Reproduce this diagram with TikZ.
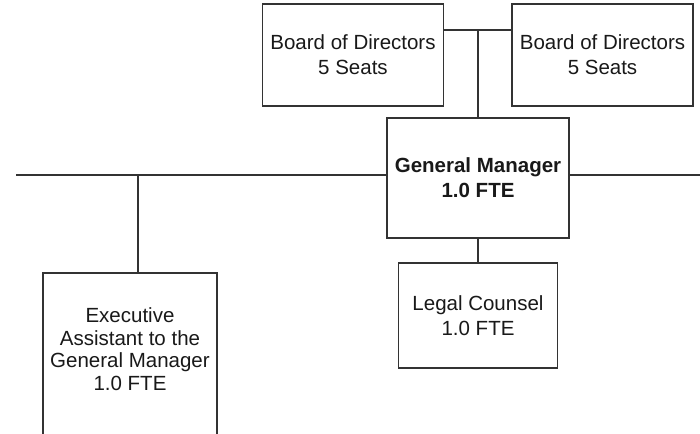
\documentclass[tikz,border=0pt]{standalone}
\usepackage{fontspec}
\setmainfont{Liberation Sans}
\begin{document}
\begin{tikzpicture}[x=1pt, y=-1pt,
    box/.style={draw=black!80, line width=1.9pt, fill=white, inner sep=0pt, align=center,
        text=black!90, font=\fontsize{20.5}{25}\selectfont},
    link/.style={draw=black!80, line width=1.4pt}]
    \useasboundingbox (0,0) rectangle (700,433);

    % Board and management
    \node[box, minimum width=181pt, minimum height=102pt] (bodl) at (353,55) {Board of Directors\\5 Seats};
    \node[box, minimum width=181pt, minimum height=102pt] (bodr) at (602.5,55) {Board of Directors\\5 Seats};
    \node[box, minimum width=182pt, minimum height=120pt, font=\fontsize{20.5}{25}\selectfont\bfseries] (gm) at (478,178) {General Manager\\1.0 FTE};
    \node[box, minimum width=159pt, minimum height=105pt] (legal) at (478,315.5) {Legal Counsel\\1.0 FTE};

    % Executive assistant box runs off the page
    \begin{scope}
        \clip (0,0) rectangle (700,433);
        \node[box, minimum width=174pt, minimum height=200pt, anchor=north] (exec) at (130,272) {};
    \end{scope}
    \node[align=center, inner sep=0pt, text=black!90, font=\fontsize{20.5}{22.5}\selectfont] (exectext) at (130,349)
        {Executive\\Assistant to the\\General Manager\\1.0 FTE};

    \coordinate (bodmid) at (478,30);
    \coordinate (busl) at (16,175);
    \coordinate (busr) at (700,175);
    \coordinate (busea) at (138,175);

    \draw[link] (bodl.east |- bodmid) -- (bodr.west |- bodmid);
    \draw[link] (bodmid) -- (gm.north);
    \draw[link] (busl) -- (gm.west |- busl);
    \draw[link] (gm.east |- busr) -- (busr);
    \draw[link] (busea) -- (busea |- exec.north);
    \draw[link] (gm.south) -- (legal.north);
\end{tikzpicture}
\end{document}
